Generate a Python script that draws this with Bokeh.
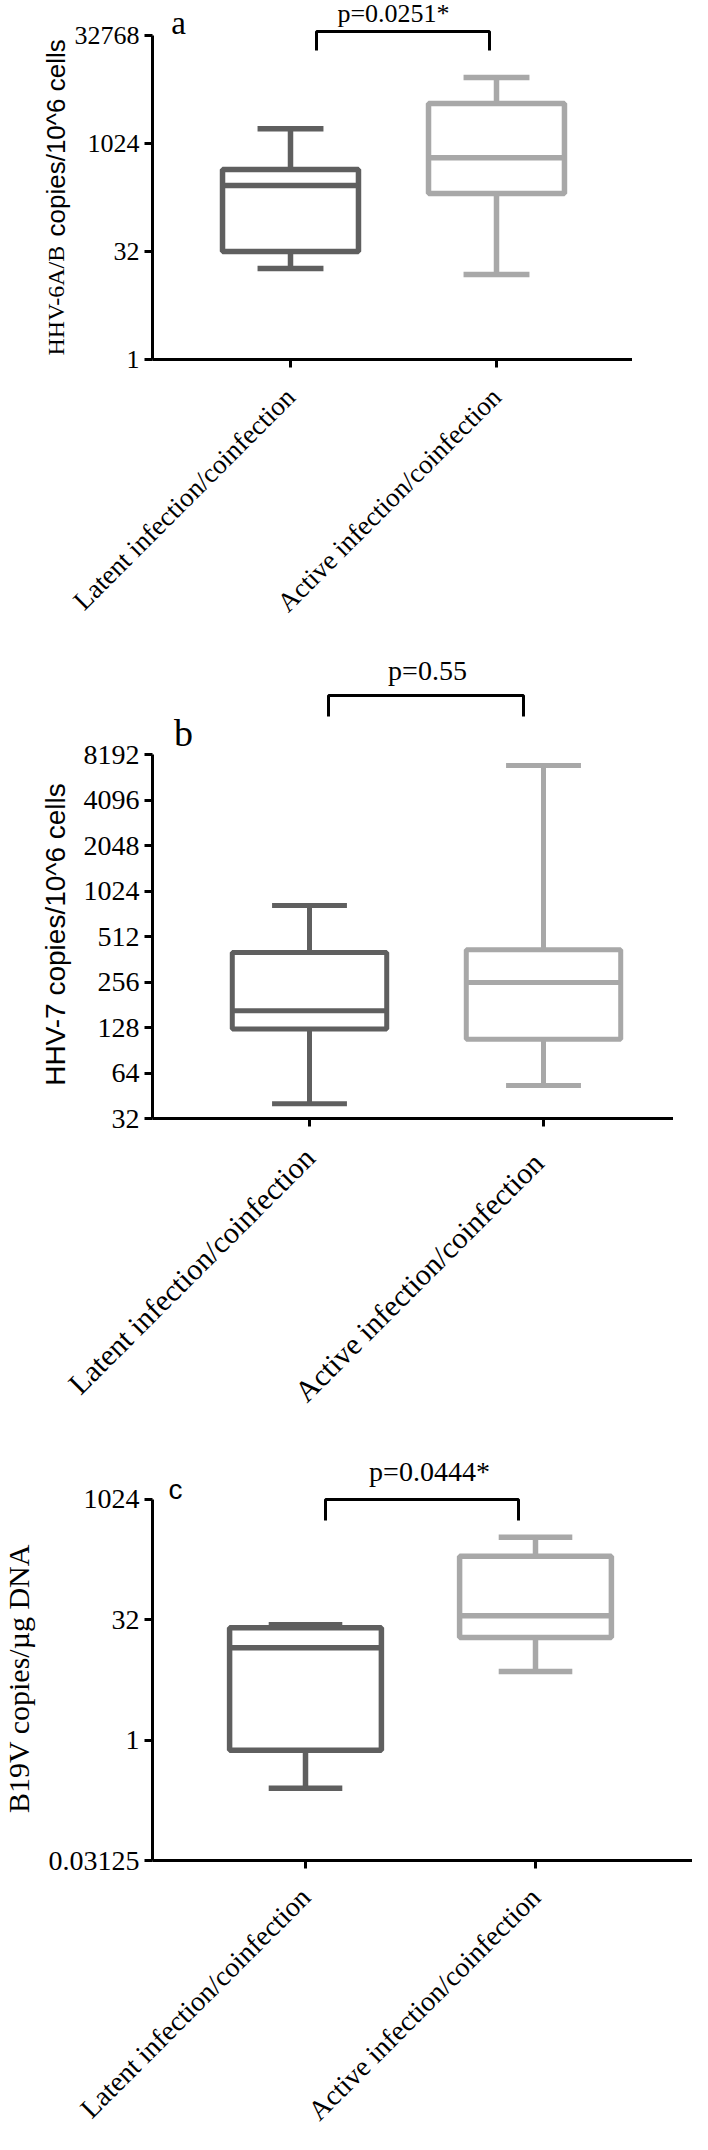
import math
from bokeh.plotting import figure
from bokeh.layouts import column
from bokeh.models import FixedTicker, CustomJSTickFormatter, Label
from bokeh.embed import file_html
from bokeh.resources import INLINE

# ---------------- data ----------------
groups_a = ["Latent infection/coinfection", "Active infection/coinfection"]
groups_b = ["Latent infection/coinfection", "Active  infection/coinfection"]
groups_c = ["Latent infection/coinfection", "Active infection/coinfection"]

hhv6_low = [18.5, 15.3]
hhv6_q1 = [32, 206]
hhv6_median = [267, 650]
hhv6_q3 = [445, 3700]
hhv6_high = [1650, 8500]
hhv6_ticks = [1, 32, 1024, 32768]
hhv6_p = "p=0.0251*"

hhv7_low = [40, 53]
hhv7_q1 = [125, 107]
hhv7_median = [165, 254]
hhv7_q3 = [402, 419]
hhv7_high = [820, 6940]
hhv7_ticks = [32, 64, 128, 256, 512, 1024, 2048, 4096, 8192]
hhv7_p = "p=0.55"

b19_low = [0.25, 7.2]
b19_q1 = [0.75, 19.2]
b19_median = [14.3, 36]
b19_q3 = [25.5, 200]
b19_high = [27.7, 345]
b19_ticks = [0.03125, 1, 32, 1024]
b19_p = "p=0.0444*"

group_colors = ["#5f5f5f", "#a8a8a8"]
xpos = [1, 2]

SERIF = "Liberation Serif"
SANS = "Liberation Sans"


def make_panel(cats, low, q1, med, q3, high, ticks, ptext, letter, ylabel_parts, L):
    ppu = L["ppu"]
    bottom_px = L["bottom_px"]
    top_px = L["top_px"]
    lb = math.log2(ticks[0])

    def Y(px):
        return 2 ** (lb + (bottom_px - px) / ppu)

    def X(px):
        return 1 + (px - L["tick1"]) / L["spacing"]

    fh = bottom_px - top_px
    fw = L["right_px"] - L["axis_px"]
    p = figure(frame_width=fw, frame_height=fh, y_axis_type="log",
               x_range=(X(L["axis_px"]), X(L["right_px"])),
               y_range=(ticks[0], Y(top_px)),
               output_backend="svg", toolbar_location=None,
               min_border_left=L["axis_px"] - 8,
               min_border_right=L["border_right"],
               min_border_top=top_px - L["canvas_top"],
               min_border_bottom=L["canvas_bottom"] - bottom_px,
               background_fill_color="white", border_fill_color="white")
    p.outline_line_color = None
    p.xgrid.grid_line_color = None
    p.ygrid.grid_line_color = None

    lw = L["box_lw"]
    bw = 0.33
    cw = 0.16
    xl = [x - bw for x in xpos]
    xr = [x + bw for x in xpos]
    cl = [x - cw for x in xpos]
    cr = [x + cw for x in xpos]
    p.segment(x0=xpos, y0=q3, x1=xpos, y1=high, line_color=group_colors, line_width=lw)
    p.segment(x0=xpos, y0=q1, x1=xpos, y1=low, line_color=group_colors, line_width=lw)
    p.segment(x0=cl, y0=high, x1=cr, y1=high, line_color=group_colors, line_width=lw)
    p.segment(x0=cl, y0=low, x1=cr, y1=low, line_color=group_colors, line_width=lw)
    p.vbar(x=xpos, width=2 * bw, bottom=q1, top=q3, fill_color="white",
           line_color=group_colors, line_width=lw)
    p.segment(x0=xl, y0=med, x1=xr, y1=med, line_color=group_colors, line_width=lw)

    bx0, bx1, by_top, by_bot = L["bracket"]
    p.line(x=[X(bx0), X(bx0), X(bx1), X(bx1)],
           y=[Y(by_bot), Y(by_top), Y(by_top), Y(by_bot)],
           line_color="black", line_width=3)

    px, py, pfs = L["ptext"]
    p.add_layout(Label(x=X(px), y=Y(py), text=ptext, text_align="center",
                       text_baseline="middle", text_font=SERIF,
                       text_font_size=pfs, text_color="black"))
    lx, ly, lfont, lfs = L["letter"]
    p.add_layout(Label(x=X(lx), y=Y(ly), text=letter, text_align="center",
                       text_baseline="middle", text_font=lfont,
                       text_font_size=lfs, text_color="black"))

    # y-axis title(s), drawn in the left border panel
    for (txt, font, fs, ax_px, ay_px, align) in ylabel_parts:
        p.add_layout(Label(x=X(ax_px), y=Y(ay_px), text=txt, angle=math.pi / 2,
                           text_align=align, text_baseline="middle",
                           text_font=font, text_font_size=fs,
                           text_color="black"), "left")

    p.yaxis.ticker = FixedTicker(ticks=ticks)
    p.yaxis.formatter = CustomJSTickFormatter(code="return tick.toString();")
    p.yaxis.bounds = (ticks[0], ticks[-1])
    p.xaxis.ticker = FixedTicker(ticks=xpos)
    p.xaxis.major_label_overrides = {1: cats[0], 2: cats[1]}
    p.xaxis.major_label_orientation = math.pi / 4
    p.xaxis.major_label_standoff = L["xlab_standoff"]
    p.yaxis.major_label_standoff = 5
    for ax in (p.xaxis, p.yaxis):
        ax.axis_line_width = 3
        ax.axis_line_color = "black"
        ax.major_tick_line_width = 3
        ax.major_tick_line_color = "black"
        ax.major_tick_out = 8
        ax.major_tick_in = 0
        ax.minor_tick_line_color = None
        ax.major_label_text_color = "black"
        ax.major_label_text_font = SERIF
    p.yaxis.major_label_text_font_size = L["ytick_fs"]
    p.xaxis.major_label_text_font_size = L["xtick_fs"]
    return p


LA = dict(ppu=21.6, bottom_px=367, top_px=8, canvas_top=8, canvas_bottom=640,
          axis_px=120, right_px=605, border_right=10, tick1=258, spacing=206,
          box_lw=5.5, bracket=(284, 457, 39, 58), ptext=(361, 21, "26px"),
          letter=(146, 30, SERIF, "33px"), xlab_standoff=25,
          ytick_fs="26px", xtick_fs="27px")
LB = dict(ppu=45.5, bottom_px=1126, top_px=640, canvas_top=640, canvas_bottom=1430,
          axis_px=122, right_px=671, border_right=10, tick1=279, spacing=234,
          box_lw=5, bracket=(298, 493, 703, 724), ptext=(397, 678, "28px"),
          letter=(153, 740, SERIF, "38px"), xlab_standoff=26,
          ytick_fs="28px", xtick_fs="30px")
LC = dict(ppu=24.07, bottom_px=1868, top_px=1430, canvas_top=1430, canvas_bottom=2140,
          axis_px=160, right_px=700, border_right=0, tick1=313, spacing=230,
          box_lw=5.5, bracket=(333, 526, 1507, 1528), ptext=(437, 1479, "28px"),
          letter=(183, 1497, SANS, "28px"), xlab_standoff=24,
          ytick_fs="28px", xtick_fs="28px")

pa = make_panel(groups_a, hhv6_low, hhv6_q1, hhv6_median, hhv6_q3, hhv6_high,
                hhv6_ticks, hhv6_p, "a",
                [("HHV-6A/B", SERIF, "24px", 23, 363, "left"),
                 ("copies/10^6 cells", SANS, "26px", 23, 244, "left")], LA)
pb = make_panel(groups_b, hhv7_low, hhv7_q1, hhv7_median, hhv7_q3, hhv7_high,
                hhv7_ticks, hhv7_p, "b",
                [("HHV-7 copies/10^6 cells", SANS, "28px", 25, 942, "center")], LB)
pc = make_panel(groups_c, b19_low, b19_q1, b19_median, b19_q3, b19_high,
                b19_ticks, b19_p, "c",
                [("B19V copies/\u00b5g DNA", SERIF, "30px", 26, 1686, "center")], LC)

layout = column(pa, pb, pc)
open("out.html", "w").write(file_html(layout, INLINE))
